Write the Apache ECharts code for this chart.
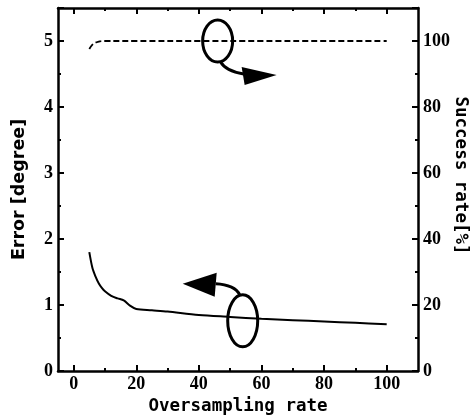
<!DOCTYPE html>
<html><head><meta charset="utf-8">
<script src="https://cdn.jsdelivr.net/npm/echarts@6/dist/echarts.min.js"></script>
<style>html,body{margin:0;padding:0;background:#fff}#c{width:475px;height:416px}</style>
</head><body><div id="c"></div>
<script>
// Data
const errX = [5, 6, 7, 8, 9, 10, 12, 14, 16, 18, 20, 25, 30, 40, 50, 60, 70, 80, 90, 100];
const errY = [1.8, 1.56, 1.43, 1.33, 1.26, 1.21, 1.14, 1.10, 1.07, 0.99, 0.94, 0.92, 0.90, 0.85, 0.82, 0.79, 0.77, 0.75, 0.73, 0.71];
const sucX = [5, 6, 7, 8, 9, 10, 20, 40, 60, 80, 100];
const sucY = [97.6, 98.9, 99.5, 99.8, 100, 100, 100, 100, 100, 100, 100];
const xLabels = [0, 20, 40, 60, 80, 100];
const xMinor = [10, 30, 50, 70, 90];

const chart = echarts.init(document.getElementById('c'));
const labelFont = {fontFamily: 'Liberation Serif', fontWeight: 'bold', fontSize: 18, color: '#000'};
const monoName = {fontFamily: 'DejaVu Sans Mono', fontWeight: 'bold', fontSize: 17.5, color: '#000'};
const axLine = {show: true, onZero: false, lineStyle: {color: '#000', width: 2.5}};

function xAx(pos, ticks, len, showLabel, showLine) {
  return {
    type: 'value', position: pos, min: -5, max: 110,
    axisLine: showLine ? axLine : {show: false, onZero: false},
    axisTick: {show: true, inside: true, length: len, customValues: ticks, lineStyle: {color: '#000', width: 2}},
    axisLabel: showLabel ? Object.assign({customValues: xLabels, margin: 4}, labelFont) : {show: false},
    splitLine: {show: false}
  };
}

const xAxes = [
  Object.assign(xAx('bottom', xLabels, 6, true, true), {name: 'Oversampling rate', nameLocation: 'middle', nameGap: 20, nameTextStyle: monoName}),
  xAx('bottom', xMinor, 3, false, false),
  xAx('top', xLabels, 6, false, true),
  xAx('top', xMinor, 3, false, false)
];

chart.setOption({
  animation: false,
  grid: {left: 58, right: 57, top: 8, bottom: 45, outerBoundsMode: 'none', containLabel: false},
  xAxis: xAxes,
  yAxis: [
    {type: 'value', min: 0, max: 5.5, interval: 1, position: 'left',
     name: 'Error [degree]', nameLocation: 'middle', nameGap: 30,
     nameTextStyle: {fontFamily: 'DejaVu Sans', fontWeight: 'bold', fontSize: 17.5, color: '#000'},
     axisLine: axLine,
     axisTick: {show: true, inside: true, length: 6, lineStyle: {color: '#000', width: 2}},
     minorTick: {show: true, splitNumber: 2, length: 3, lineStyle: {color: '#000', width: 2}},
     axisLabel: Object.assign({margin: 5, formatter: v => (v > 5 ? '' : v)}, labelFont),
     splitLine: {show: false}},
    {type: 'value', min: 0, max: 110, interval: 20, position: 'right',
     name: 'Success rate[%]', nameLocation: 'middle', nameGap: 34, nameRotate: -90, nameMoveOverlap: false,
     nameTextStyle: Object.assign({padding: [0, 28, 0, 0]}, monoName),
     axisLine: axLine,
     axisTick: {show: true, inside: true, length: 6, lineStyle: {color: '#000', width: 2}},
     minorTick: {show: true, splitNumber: 2, length: 3, lineStyle: {color: '#000', width: 2}},
     axisLabel: Object.assign({margin: 5, formatter: v => (v > 100 ? '' : v)}, labelFont),
     splitLine: {show: false}}
  ],
  series: [
    {type: 'line', xAxisIndex: 0, yAxisIndex: 0, data: errX.map((x, i) => [x, errY[i]]),
     smooth: 0.3, showSymbol: false, lineStyle: {color: '#000', width: 2}},
    {type: 'line', xAxisIndex: 0, yAxisIndex: 1, data: sucX.map((x, i) => [x, sucY[i]]),
     smooth: 0.4, showSymbol: false, lineStyle: {color: '#000', width: 1.8, type: [6, 3]}}
  ]
});

// Annotation symbols anchored to data coordinates
function px(x, y, yi) { return chart.convertToPixel({xAxisIndex: 0, yAxisIndex: yi}, [x, y]); }
const a1 = px(46, 5.0, 0);  // top ellipse center
const a2 = px(54, 0.76, 0); // bottom ellipse center
const blk = {stroke: '#000', lineWidth: 3, fill: null};
chart.setOption({
  graphic: [
    {type: 'ellipse', shape: {cx: a1[0], cy: a1[1], rx: 15, ry: 21}, style: blk},
    {type: 'bezierCurve', shape: {x1: a1[0] + 3, y1: a1[1] + 21, cpx1: a1[0] + 8, cpy1: a1[1] + 30, x2: a1[0] + 26, y2: a1[1] + 33}, style: blk},
    {type: 'polygon', shape: {points: [[a1[0] + 24, a1[1] + 26], [a1[0] + 27, a1[1] + 44], [a1[0] + 59, a1[1] + 34]]}, style: {fill: '#000'}},
    {type: 'ellipse', shape: {cx: a2[0], cy: a2[1], rx: 15, ry: 26}, style: blk},
    {type: 'bezierCurve', shape: {x1: a2[0] - 3, y1: a2[1] - 26, cpx1: a2[0] - 8, cpy1: a2[1] - 36, x2: a2[0] - 27, y2: a2[1] - 37}, style: blk},
    {type: 'polygon', shape: {points: [[a2[0] - 26, a2[1] - 48], [a2[0] - 28, a2[1] - 24], [a2[0] - 60, a2[1] - 37]]}, style: {fill: '#000'}}
  ]
});
</script></body></html>
